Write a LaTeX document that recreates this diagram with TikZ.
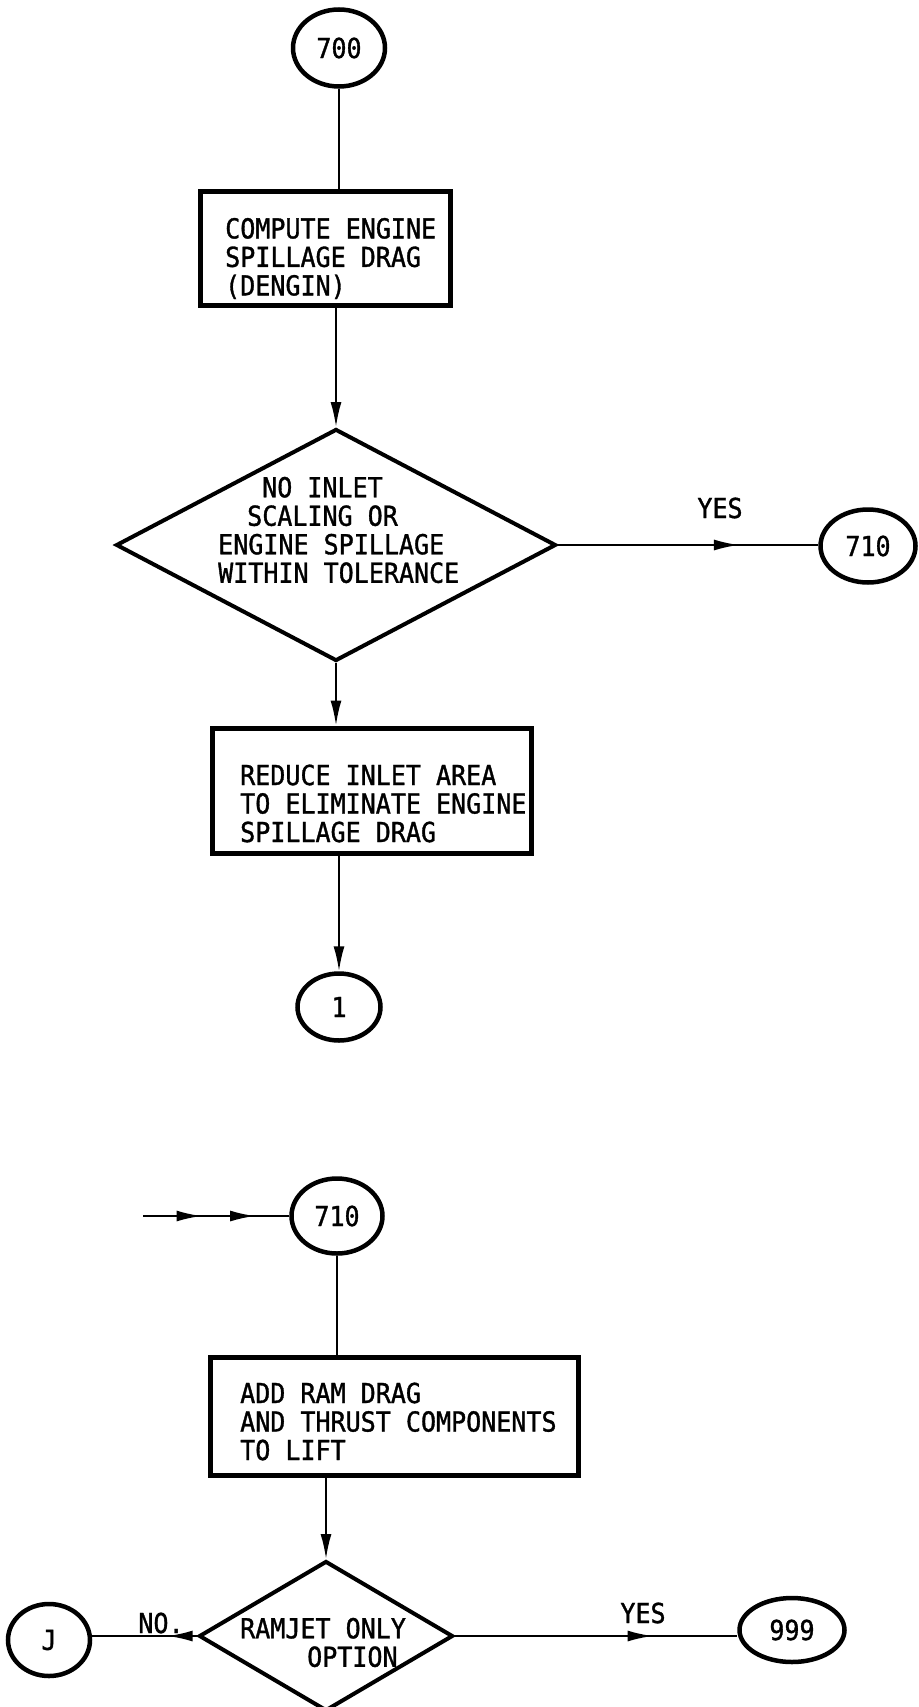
\documentclass[tikz,border=0pt]{standalone}
\usepackage{fontspec}
\newfontfamily\monof[FakeStretch=0.91,FakeBold=1.2]{DejaVu Sans Mono}
\usetikzlibrary{shapes.geometric,arrows.meta,decorations.markings}
\begin{document}
\begin{tikzpicture}[x=1pt,y=-1pt,
  font=\monof\fontsize{27.5}{28.5}\selectfont,
  conn/.style={line width=2pt},
  tipend/.style={-{Latex[length=25pt,width=11pt]}},
  midarr/.style={postaction={decorate,decoration={markings,mark=at position #1 with {\arrow{Latex[length=25pt,width=11pt]}}}}},
  procbox/.style={draw,rectangle,line width=5pt,inner sep=0pt},
  decision/.style={draw,diamond,line width=4pt,inner sep=0pt},
  oval/.style={draw,ellipse,line width=4.5pt,inner sep=0pt},
  txt/.style={align=left,inner sep=0pt,anchor=west},
  lbl/.style={inner sep=0pt}]
\useasboundingbox (0,0) rectangle (918,1707);

% ---- upper part ----
\node[oval,minimum width=92pt,minimum height=77pt] (o700) at (339,48) {700};
\node[procbox,minimum width=250pt,minimum height=113pt] (b1) at (325,248.5) {};
\node[txt] (t1) at (225,258.5) {COMPUTE ENGINE\\SPILLAGE DRAG\\(DENGIN)};
\node[decision,minimum width=440pt,minimum height=232pt] (d1) at (336,545) {};
\node[txt] (t2) at (218,530) {\hspace*{44pt}NO INLET\\\hspace*{29pt}SCALING OR\\ENGINE SPILLAGE\\WITHIN TOLERANCE};
\node[oval,minimum width=95pt,minimum height=73pt] (o710a) at (868,546) {710};
\node[lbl] (yes1) at (720,508) {YES};
\node[procbox,minimum width=319pt,minimum height=125pt] (b2) at (371.5,790.5) {};
\node[txt] (t3) at (240,803.5) {REDUCE INLET AREA\\TO ELIMINATE ENGINE\\SPILLAGE DRAG};
\node[oval,minimum width=83pt,minimum height=67pt] (o1) at (339,1007) {1};

\draw[conn] (o700.south) -- (o700.south |- b1.north);
\draw[conn,tipend] (d1.north |- b1.south) -- (d1.north);
\draw[conn,midarr=0.695] (d1.east) -- (d1.east -| o710a.west);
\draw[conn,tipend] (d1.south) -- (d1.south |- b2.north);
\draw[conn,tipend] (o1.north |- b2.south) -- (o1.north);

% ---- lower part ----
\coordinate (in) at (143,1216);
\node[oval,minimum width=91pt,minimum height=75pt] (o710b) at (337,1216) {710};
\node[procbox,minimum width=368pt,minimum height=118pt] (b3) at (394,1416) {};
\node[txt] (t4) at (240,1421.5) {ADD RAM DRAG\\AND THRUST COMPONENTS\\TO LIFT};
\node[decision,minimum width=254pt,minimum height=150pt] (d2) at (326,1636) {};
\node[txt] (t5) at (240,1642.5) {RAMJET ONLY\\\hspace*{67pt}OPTION};
\node[oval,minimum width=82pt,minimum height=72pt] (oJ) at (49,1640) {J};
\node[lbl] (no) at (161,1624) {\underline{NO.}};
\node[oval,minimum width=105pt,minimum height=64pt] (o999) at (792,1630) {999};
\node[lbl] (yes2) at (643,1613) {YES};

\draw[conn,midarr=0.40,midarr=0.766] (in) -- (o710b.west);
\draw[conn] (o710b.south) -- (o710b.south |- b3.north);
\draw[conn,tipend] (d2.north |- b3.south) -- (d2.north);
\draw[conn,midarr=0.28] (d2.west) -- (d2.west -| oJ.east);
\draw[conn,midarr=0.70] (d2.east) -- (d2.east -| o999.west);
\end{tikzpicture}
\end{document}
